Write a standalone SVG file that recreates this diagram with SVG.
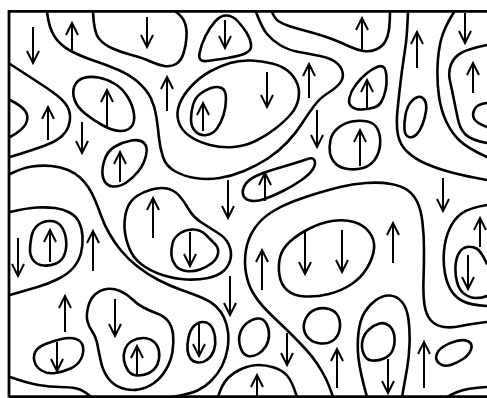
<svg xmlns="http://www.w3.org/2000/svg" width="487" height="398" viewBox="0 0 487 398">
<style>
.w{fill:none;stroke:#000;stroke-width:2.6;stroke-linecap:round;stroke-linejoin:round}
.f{fill:none;stroke:#000;stroke-width:2.8}
.a{fill:none;stroke:#000;stroke-width:2;marker-end:url(#ah)}
</style>
<defs>
<marker id="ah" markerUnits="userSpaceOnUse" markerWidth="16" markerHeight="16" viewBox="-14 -8 16 16" refX="0" refY="0" orient="auto" overflow="visible">
<path d="M-12,-6 L0,0 L-12,6" fill="none" stroke="#000" stroke-width="2" stroke-linejoin="miter"/>
</marker>
</defs>
<rect width="487" height="398" fill="#fff"/>
<g id="frame">
<path class="f" d="M9 11.3 H487"/>
<path class="f" d="M9 10 V397.5"/>
<path class="f" d="M9 396.6 H487"/>
</g>
<g id="walls">
<path class="w" d="M 10 64 Q 30 77 41.5 84.5 Q 53 92 59.5 97.5 Q 66 103 68.5 109 Q 71 115 69.5 122.5 Q 68 130 62.5 135.5 Q 57 141 45 145.5 Q 33 150 10 157"/>
<path class="w" d="M 10 100 Q 22 106 25.5 111.5 Q 29 117 26 123.5 Q 23 130 10 137"/>
<path class="w" d="M 47 12 Q 49 28 54.5 36.5 Q 60 45 70 50.5 Q 80 56 93.5 60.5 Q 107 65 118.5 70 Q 130 75 138.5 82.5 Q 147 90 151 98.5 Q 155 107 156.5 117.5 Q 158 128 159 138 Q 160 148 163 157 Q 166 166 174.5 171 Q 183 176 195 178 Q 207 180 219.5 178 Q 232 176 244 171 Q 256 166 267 159 Q 278 152 287 142.5 Q 296 133 302 123.5 Q 308 114 314 106 Q 320 98 328 93 Q 336 88 340 83 Q 344 78 342.5 72 Q 341 66 335.5 62 Q 330 58 320 56 Q 310 54 299 52 Q 288 50 280 45 Q 272 40 267 34 Q 262 28 256 12"/>
<path class="w" d="M 93 12 Q 94 32 98.5 38 Q 103 44 111.5 48 Q 120 52 131.5 55 Q 143 58 150.5 61.5 Q 158 65 164.5 66 Q 171 67 176 64 Q 181 61 183.5 53.5 Q 186 46 186.5 37 Q 187 28 184.5 22 Q 182 16 176 12"/>
<path class="w" d="M 206.5 61 Q 198 62 199.5 53.5 Q 201 45 205.5 36 Q 210 27 215.5 21 Q 221 15 227 15.5 Q 233 16 238 21.5 Q 243 27 246.5 32.5 Q 250 38 251 44 Q 252 50 246 53 Q 240 56 227.5 58 Q 215 60 206.5 61 Z"/>
<path class="w" d="M 230 63 Q 240 60 251 60.5 Q 262 61 272 63.5 Q 282 66 288 71 Q 294 76 297 83 Q 300 90 298.5 98.5 Q 297 107 291 114 Q 285 121 275.5 128.5 Q 266 136 255.5 141 Q 245 146 233.5 147 Q 222 148 210 145 Q 198 142 189.5 136 Q 181 130 178.5 121.5 Q 176 113 179.5 104 Q 183 95 191.5 86 Q 200 77 210 71.5 Q 220 66 230 63 Z"/>
<path class="w" d="M 191 119.5 Q 191 112 193 105 Q 195 98 200 94 Q 205 90 211 88 Q 217 86 221.5 88 Q 226 90 226 98.5 Q 226 107 223.5 115 Q 221 123 217 128.5 Q 213 134 206.5 135 Q 200 136 195.5 131.5 Q 191 127 191 119.5 Z"/>
<path class="w" d="M 74.5 99.5 Q 72 92 74.5 86 Q 77 80 83.5 78 Q 90 76 98.5 77.5 Q 107 79 115 84 Q 123 89 128 97.5 Q 133 106 134 114 Q 135 122 131.5 126.5 Q 128 131 120.5 131 Q 113 131 103 125.5 Q 93 120 85 113.5 Q 77 107 74.5 99.5 Z"/>
<path class="w" d="M 103.5 179 Q 101 172 104 161.5 Q 107 151 115 146.5 Q 123 142 131.5 140.5 Q 140 139 144 143 Q 148 147 146 155.5 Q 144 164 139 170.5 Q 134 177 127 182 Q 120 187 113 186.5 Q 106 186 103.5 179 Z"/>
<path class="w" d="M 10 174 Q 22 168 32 166.5 Q 42 165 51.5 166 Q 61 167 68 170 Q 75 173 80 177.5 Q 85 182 88.5 187.5 Q 92 193 95 200 Q 98 207 101 215.5 Q 104 224 109 233 Q 114 242 121 250.5 Q 128 259 137.5 266.5 Q 147 274 158.5 280 Q 170 286 181.5 290 Q 193 294 201.5 297.5 Q 210 301 215.5 306 Q 221 311 224 317.5 Q 227 324 228 332 Q 229 340 227.5 349 Q 226 358 222 366 Q 218 374 211.5 380.5 Q 205 387 197.5 390.5 Q 190 394 172 397"/>
<path class="w" d="M 128 206.5 Q 131 200 137 196 Q 143 192 151.5 189.5 Q 160 187 167 188.5 Q 174 190 179 195.5 Q 184 201 188.5 209 Q 193 217 201.5 222.5 Q 210 228 218 233 Q 226 238 229 245 Q 232 252 230.5 259 Q 229 266 223.5 271 Q 218 276 208 278 Q 198 280 186.5 279.5 Q 175 279 162.5 275 Q 150 271 141 264 Q 132 257 128 245 Q 124 233 124.5 223 Q 125 213 128 206.5 Z"/>
<path class="w" d="M 171.5 255.5 Q 171 250 172.5 243.5 Q 174 237 180.5 233 Q 187 229 194 229.5 Q 201 230 206 235 Q 211 240 215 244 Q 219 248 218 253.5 Q 217 259 212 263 Q 207 267 200 269.5 Q 193 272 186 271 Q 179 270 175.5 265.5 Q 172 261 171.5 255.5 Z"/>
<path class="w" d="M 243 194.5 Q 242 190 245 185 Q 248 180 255 176.5 Q 262 173 272 170 Q 282 167 292 164 Q 302 161 307.5 159 Q 313 157 314.5 160.5 Q 316 164 313 169 Q 310 174 301.5 180 Q 293 186 283 191 Q 273 196 264.5 199 Q 256 202 250 200.5 Q 244 199 243 194.5 Z"/>
<path class="w" d="M 333 397 Q 329 385 325.5 378 Q 322 371 317 363.5 Q 312 356 305.5 349 Q 299 342 292 335 Q 285 328 277.5 321 Q 270 314 263.5 307 Q 257 300 252.5 292 Q 248 284 246 273 Q 244 262 246 250 Q 248 238 254.5 228.5 Q 261 219 271 212.5 Q 281 206 293 201.5 Q 305 197 316.5 193.5 Q 328 190 340 187 Q 352 184 366 183 Q 380 182 391 184 Q 402 186 408 190.5 Q 414 195 417.5 202.5 Q 421 210 422.5 222.5 Q 424 235 424 250 Q 424 265 423.5 280 Q 423 295 424.5 305 Q 426 315 431 320.5 Q 436 326 444 327 Q 452 328 461 326 Q 470 324 487 322"/>
<path class="w" d="M 279.5 275.5 Q 278 266 280 257.5 Q 282 249 289.5 242 Q 297 235 308.5 229 Q 320 223 332 221 Q 344 219 354 222 Q 364 225 369.5 232.5 Q 375 240 374 249 Q 373 258 367 268 Q 361 278 351 284.5 Q 341 291 329 294 Q 317 297 305.5 296.5 Q 294 296 287.5 290.5 Q 281 285 279.5 275.5 Z"/>
<path class="w" d="M 240.5 347.5 Q 238 340 240 333.5 Q 242 327 247 323 Q 252 319 257.5 318.5 Q 263 318 266 323 Q 269 328 269 334.5 Q 269 341 266 346 Q 263 351 258 354 Q 253 357 248 356 Q 243 355 240.5 347.5 Z"/>
<path class="w" d="M 304 329.5 Q 303 324 306 318 Q 309 312 315.5 309.5 Q 322 307 329 309 Q 336 311 338.5 317 Q 341 323 339.5 330 Q 338 337 333 340.5 Q 328 344 321 343.5 Q 314 343 309.5 339 Q 305 335 304 329.5 Z"/>
<path class="w" d="M 218 397 Q 222 384 228 378 Q 234 372 242.5 368.5 Q 251 365 258.5 365 Q 266 365 274 367.5 Q 282 370 287 375.5 Q 292 381 297 397"/>
<path class="w" d="M 367 397 Q 360 372 358.5 358.5 Q 357 345 358.5 332.5 Q 360 320 364.5 312.5 Q 369 305 376 300 Q 383 295 390 295.5 Q 397 296 402 302 Q 407 308 408.5 319.5 Q 410 331 409.5 344.5 Q 409 358 407 369 Q 405 380 402 397"/>
<path class="w" d="M 363.5 353.5 Q 361 347 362.5 340.5 Q 364 334 369 329.5 Q 374 325 379.5 323.5 Q 385 322 389.5 326 Q 394 330 394.5 337.5 Q 395 345 392.5 350.5 Q 390 356 384 358.5 Q 378 361 372 360.5 Q 366 360 363.5 353.5 Z"/>
<path class="w" d="M 439.5 363.5 Q 435 360 436.5 355 Q 438 350 443.5 346.5 Q 449 343 456.5 341 Q 464 339 468.5 341.5 Q 473 344 471 349.5 Q 469 355 463 359 Q 457 363 450.5 365 Q 444 367 439.5 363.5 Z"/>
<path class="w" d="M 447 397 Q 457 391 468 389 Q 477 387.5 487 387"/>
<path class="w" d="M 487 205 Q 469 208 461.5 213.5 Q 454 219 449.5 229 Q 445 239 444 251 Q 443 263 445 273.5 Q 447 284 451.5 291 Q 456 298 463.5 301.5 Q 471 305 487 306"/>
<path class="w" d="M 487 264 Q 481 251 476.5 248.5 Q 472 246 467 247 Q 462 248 459 253 Q 456 258 455.5 266 Q 455 274 457 282 Q 459 290 464.5 294 Q 470 298 476 298 Q 482 298 487 296"/>
<path class="w" d="M 408 12 Q 407 35 406 42.5 Q 405 50 403.5 60 Q 402 70 400.5 82.5 Q 399 95 397.5 110 Q 396 125 398 135 Q 400 145 407.5 152 Q 415 159 426.5 164 Q 438 169 451.5 172.5 Q 465 176 487 180"/>
<path class="w" d="M 404.5 129.5 Q 404 123 405.5 115 Q 407 107 410.5 102.5 Q 414 98 418 97 Q 422 96 424.5 100 Q 427 104 426 111 Q 425 118 422.5 124.5 Q 420 131 416.5 134.5 Q 413 138 409 137 Q 405 136 404.5 129.5 Z"/>
<path class="w" d="M 454 12 Q 444 28 441 40 Q 438 52 437.5 67.5 Q 437 83 439 96.5 Q 441 110 446 121 Q 451 132 459 140 Q 467 148 487 157"/>
<path class="w" d="M 487 45 Q 468 49 461 53 Q 454 57 451 64.5 Q 448 72 450 81 Q 452 90 454 100 Q 456 110 458 119.5 Q 460 129 465.5 134.5 Q 471 140 487 143"/>
<path class="w" d="M 487 103 Q 477 104 474.5 109.5 Q 472 114 474 118.5 Q 476 123 487 127"/>
<path class="w" d="M 272 12 Q 275 19 279 21.5 Q 283 24 289 26 Q 295 28 302.5 30 Q 310 32 318.5 34.5 Q 327 37 334.5 40 Q 342 43 349.5 46.5 Q 357 50 363.5 51 Q 370 52 376 49.5 Q 382 47 385 42 Q 388 37 389 29.5 Q 390 22 390 12"/>
<path class="w" d="M 352 107 Q 348 104 349.5 97.5 Q 351 91 356 84.5 Q 361 78 366.5 73.5 Q 372 69 377 67 Q 382 65 384 67.5 Q 386 70 386.5 77 Q 387 84 385.5 90.5 Q 384 97 381.5 101.5 Q 379 106 374 107.5 Q 369 109 362.5 109.5 Q 356 110 352 107 Z"/>
<path class="w" d="M 330 153 Q 329 147 330.5 140 Q 332 133 338 128 Q 344 123 352 121.5 Q 360 120 367.5 121.5 Q 375 123 378 130 Q 381 137 380 145.5 Q 379 154 374.5 160 Q 370 166 363 168 Q 356 170 348 169 Q 340 168 335.5 163.5 Q 331 159 330 153 Z"/>
<path class="w" d="M 10 212 Q 27 208 37 207.5 Q 47 207 55 208 Q 63 209 69.5 212.5 Q 76 216 79 222 Q 82 228 82.5 236.5 Q 83 245 81 253 Q 79 261 73.5 267.5 Q 68 274 58 279 Q 48 284 37.5 287 Q 27 290 10 295"/>
<path class="w" d="M 30 250 Q 30 244 31.5 236.5 Q 33 229 38 225 Q 43 221 50 221 Q 57 221 61 226 Q 65 231 66 239.5 Q 67 248 64.5 254.5 Q 62 261 56 263.5 Q 50 266 43.5 265.5 Q 37 265 33.5 260.5 Q 30 256 30 250 Z"/>
<path class="w" d="M 34.5 361.5 Q 33 356 35.5 351.5 Q 38 347 45.5 344 Q 53 341 61.5 339 Q 70 337 76 339 Q 82 341 83 347 Q 84 353 81 359 Q 78 365 70.5 368.5 Q 63 372 55 373 Q 47 374 41.5 370.5 Q 36 367 34.5 361.5 Z"/>
<path class="w" d="M 10 377 Q 27 383 38.5 385 Q 50 387 60 387 Q 70 387 76.5 388.5 Q 83 390 90 396"/>
<path class="w" d="M 87.5 321.5 Q 86 316 88 307.5 Q 90 299 95 294.5 Q 100 290 106.5 289 Q 113 288 120 291 Q 127 294 132 299 Q 137 304 143.5 307.5 Q 150 311 157 313.5 Q 164 316 168 321 Q 172 326 173 334 Q 174 342 172.5 351.5 Q 171 361 166 369.5 Q 161 378 154 383 Q 147 388 138.5 389.5 Q 130 391 121.5 388 Q 113 385 108 378 Q 103 371 101 362 Q 99 353 97.5 345 Q 96 337 92.5 332 Q 89 327 87.5 321.5 Z"/>
<path class="w" d="M 124 360.5 Q 123 355 125 349.5 Q 127 344 132 341 Q 137 338 143 338 Q 149 338 153.5 341.5 Q 158 345 159 351.5 Q 160 358 157.5 364 Q 155 370 149 373 Q 143 376 137 375.5 Q 131 375 128 370.5 Q 125 366 124 360.5 Z"/>
<path class="w" d="M 187.5 350 Q 187 345 188.5 337.5 Q 190 330 194 326 Q 198 322 203 322 Q 208 322 211 326 Q 214 330 215 337 Q 216 344 214 350 Q 212 356 207.5 359.5 Q 203 363 198 362.5 Q 193 362 190.5 358.5 Q 188 355 187.5 350 Z"/>
</g>
<g id="arrows">
<path class="a" d="M33 27 V63"/>
<path class="a" d="M147 17 V47"/>
<path class="a" d="M225 20 V48"/>
<path class="a" d="M267 72 V107"/>
<path class="a" d="M82 122 V153"/>
<path class="a" d="M317 110 V147"/>
<path class="a" d="M465 13 V43"/>
<path class="a" d="M228 180 V218"/>
<path class="a" d="M443 178 V211"/>
<path class="a" d="M190 232 V266"/>
<path class="a" d="M305 232 V274"/>
<path class="a" d="M342 230 V272"/>
<path class="a" d="M18 238 V276"/>
<path class="a" d="M468 255 V289"/>
<path class="a" d="M230 276 V315"/>
<path class="a" d="M115 299 V336"/>
<path class="a" d="M57 342 V371"/>
<path class="a" d="M199 324 V356"/>
<path class="a" d="M287 333 V365"/>
<path class="a" d="M388 359 V393"/>
<path class="a" d="M72 50 V23"/>
<path class="a" d="M167 111 V77"/>
<path class="a" d="M107 127 V90"/>
<path class="a" d="M203 131 V103"/>
<path class="a" d="M48 140 V107"/>
<path class="a" d="M120 182 V152"/>
<path class="a" d="M309 98 V64"/>
<path class="a" d="M362 52 V18"/>
<path class="a" d="M367 108 V80"/>
<path class="a" d="M417 68 V32"/>
<path class="a" d="M360 166 V130"/>
<path class="a" d="M473 93 V63"/>
<path class="a" d="M265 201 V173"/>
<path class="a" d="M153 238 V198"/>
<path class="a" d="M262 290 V250"/>
<path class="a" d="M393 263 V223"/>
<path class="a" d="M480 247 V218"/>
<path class="a" d="M50 262 V230"/>
<path class="a" d="M93 271 V231"/>
<path class="a" d="M65 332 V296"/>
<path class="a" d="M137 376 V346"/>
<path class="a" d="M257 396 V375"/>
<path class="a" d="M337 388 V349"/>
<path class="a" d="M424 388 V342"/>
</g>
</svg>
